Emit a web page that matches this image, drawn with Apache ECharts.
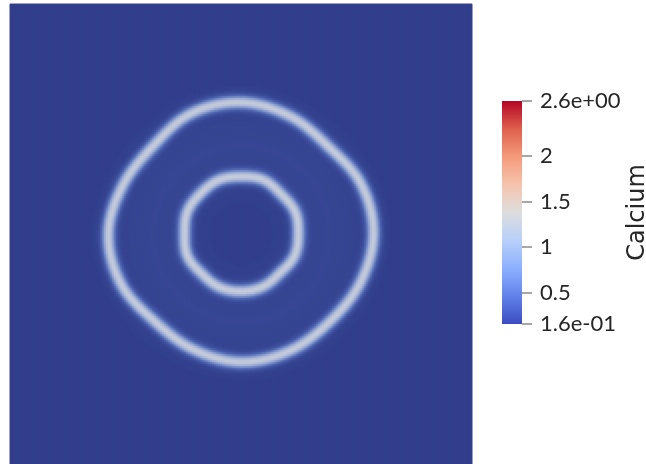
<!DOCTYPE html>
<html>
<head>
<meta charset="utf-8">
<script src="https://cdn.jsdelivr.net/npm/echarts@6/dist/echarts.min.js"></script>
<style>
  html, body { margin: 0; padding: 0; background: #ffffff; }
  #chart { width: 646px; height: 464px; }
</style>
</head>
<body>
<div id="chart"></div>
<script>
// Calcium concentration on a square domain: two closed wave fronts.
// Geometry is given in domain units (the square is DOMAIN_SIZE units wide).
const DOMAIN_SIZE = 461;
const GRID_CELLS = 231;

// Centre of both fronts (x to the right, y downward from the top edge).
const frontCenter = [231, 229];

// Front radius sampled every 22.5 degrees, counter-clockwise from +x.
const frontAngles = [0, 22.5, 45, 67.5, 90, 112.5, 135, 157.5, 180, 202.5, 225, 247.5, 270, 292.5, 315, 337.5];
const outerRadius = [132, 129.5, 123, 127, 131, 130, 124, 127.5, 132.5, 130, 123, 125, 128, 126.5, 124.5, 128.5];
const innerRadius = [57, 58, 56, 58, 57, 58, 57, 58, 56.5, 58, 56, 57.5, 57.5, 57, 55, 57.5];

// Calcium levels
const restingLevel = 0.16;
const outerPeak = 1.14;  // added on top of resting level at the outer front
const innerPeak = 1.14;  // added on top of resting level at the inner front
const frontWidth = 4.6;  // spread of each front, domain units
const wakeLevel = 0.07;  // faint elevated zone between the fronts
const wakeRadius = 88;
const wakeWidth = 24;

// Colour bar
const rangeMin = 0.16;
const rangeMax = 2.6;
const tickValues = [0.16, 0.5, 1, 1.5, 2, 2.6];
const tickLabels = { '0.16': '1.6e-01', '2.6': '2.6e+00' };
const fieldName = 'Calcium';

// Cool-to-warm colour map as shown on the colour bar
const coolWarm = ['#3b4cc0', '#6282ea', '#8db0fe', '#b8d0f9', '#dddddd', '#f5c4ad', '#f49a7b', '#de604d', '#b40426'];
// Same map as it appears on the lit surface
const coolWarmLit = ['#323f8c', '#4a60ae', '#788fc8', '#a7b5d8', '#ccd0da', '#e0c2b3', '#d99a80', '#c4604f', '#9c1a30'];

// Smooth periodic (Catmull-Rom) lookup of a front radius at an angle in degrees
function radiusAt(radii, deg) {
  const n = radii.length;
  const step = 360 / n;
  const a = ((deg % 360) + 360) % 360;
  const k = Math.floor(a / step);
  const t = (a - k * step) / step;
  const p0 = radii[(k - 1 + n) % n], p1 = radii[k % n], p2 = radii[(k + 1) % n], p3 = radii[(k + 2) % n];
  return 0.5 * ((2 * p1) + (-p0 + p2) * t + (2 * p0 - 5 * p1 + 4 * p2 - p3) * t * t + (-p0 + 3 * p1 - 3 * p2 + p3) * t * t * t);
}

const cellSize = DOMAIN_SIZE / GRID_CELLS;
const cells = [];
for (let i = 0; i < GRID_CELLS; i++) {
  for (let j = 0; j < GRID_CELLS; j++) {
    // j counts from the bottom row on the y category axis
    const x = (i + 0.5) * cellSize;
    const yDown = DOMAIN_SIZE - (j + 0.5) * cellSize;
    const dx = x - frontCenter[0];
    const dy = frontCenter[1] - yDown;
    const r = Math.sqrt(dx * dx + dy * dy);
    const deg = Math.atan2(dy, dx) * 180 / Math.PI;
    const dOut = r - radiusAt(outerRadius, deg);
    const dIn = r - radiusAt(innerRadius, deg);
    const dWake = r - wakeRadius;
    let v = restingLevel
      + outerPeak * Math.exp(-dOut * dOut / (2 * frontWidth * frontWidth))
      + innerPeak * Math.exp(-dIn * dIn / (2 * frontWidth * frontWidth))
      + wakeLevel * Math.exp(-dWake * dWake / (2 * wakeWidth * wakeWidth));
    cells.push([i, j, +v.toFixed(3)]);
  }
}

const axisCats = [];
for (let i = 0; i < GRID_CELLS; i++) axisCats.push(i);

const chart = echarts.init(document.getElementById('chart'), null, { renderer: 'canvas' });

const gradientStops = coolWarm.map((c, k) => ({ offset: k / (coolWarm.length - 1), color: c }));

chart.setOption({
  animation: false,
  backgroundColor: '#ffffff',
  grid: [
    { left: 10, top: 4, width: 462, height: 462, show: true, borderColor: '#8e94b4', borderWidth: 1,
      backgroundColor: coolWarmLit[0], outerBoundsMode: 'none', containLabel: false },
    { left: 502, top: 101, width: 20, height: 223, outerBoundsMode: 'none', containLabel: false }
  ],
  xAxis: [
    { type: 'category', data: axisCats, gridIndex: 0, show: false },
    { type: 'category', data: ['bar'], gridIndex: 1, show: false }
  ],
  yAxis: [
    { type: 'category', data: axisCats, gridIndex: 0, show: false },
    {
      type: 'value', gridIndex: 1, position: 'right', min: rangeMin, max: rangeMax,
      splitLine: { show: false },
      axisLine: { show: false },
      axisTick: { show: true, length: 10, customValues: tickValues, lineStyle: { color: '#8a8a8a', width: 1.5 } },
      axisLabel: {
        show: true, customValues: tickValues, margin: 18,
        fontFamily: 'Lato', fontSize: 22, color: '#262626',
        formatter: v => tickLabels[String(v)] || String(v)
      },
      name: fieldName, nameLocation: 'middle', nameRotate: 90, nameGap: 104,
      nameTextStyle: { fontFamily: 'DejaVu Sans', fontSize: 24, color: '#262626' }
    }
  ],
  visualMap: {
    type: 'continuous', show: false, seriesIndex: 0, dimension: 2,
    min: rangeMin, max: rangeMax,
    inRange: { color: coolWarmLit }
  },
  series: [
    {
      type: 'heatmap', xAxisIndex: 0, yAxisIndex: 0, data: cells,
      progressive: 0, emphasis: { disabled: true }, itemStyle: { borderWidth: 0 }
    },
    {
      type: 'custom', xAxisIndex: 1, yAxisIndex: 1, silent: true,
      data: [[0, rangeMin, rangeMax]],
      renderItem: function (params, api) {
        const lo = api.coord([api.value(0), api.value(1)]);
        const hi = api.coord([api.value(0), api.value(2)]);
        const w = api.size([1, 0])[0];
        return {
          type: 'rect',
          shape: { x: lo[0] - w / 2, y: hi[1], width: w, height: lo[1] - hi[1] },
          style: { fill: new echarts.graphic.LinearGradient(0, 1, 0, 0, gradientStops) }
        };
      }
    }
  ]
});
</script>
</body>
</html>
